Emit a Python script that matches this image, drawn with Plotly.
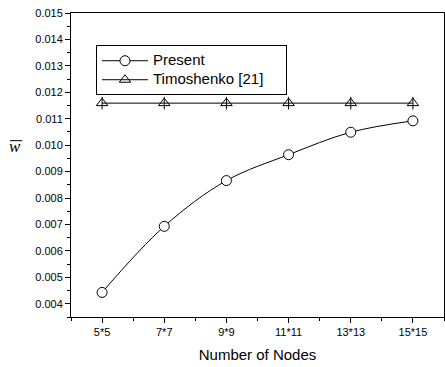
import plotly.graph_objects as go

categories = ["5*5", "7*7", "9*9", "11*11", "13*13", "15*15"]
present = [0.00443, 0.00693, 0.00866, 0.00964, 0.01049, 0.01092]
timoshenko = [0.01159, 0.01159, 0.01159, 0.01159, 0.01159, 0.01159]
series_names = ["Present", "Timoshenko [21]"]

xpos = list(range(1, len(categories) + 1))
minor_x = [i + 0.5 for i in range(0, len(categories) + 1)]

FONT = "Liberation Sans, Arial, sans-serif"


def legend_label(s, pad=0):
    return '<span style="font-size:15px">' + s + '\u00a0' * pad + '</span>'


fig = go.Figure()
fig.add_trace(go.Scatter(
    x=xpos, y=present, name=legend_label(series_names[0]), mode="lines+markers",
    line=dict(color="black", width=1, shape="spline"),
    marker=dict(symbol="circle", size=10, color="white", line=dict(color="black", width=1)),
))
fig.add_trace(go.Scatter(
    x=xpos, y=timoshenko, name=legend_label(series_names[1], pad=4), mode="lines+markers",
    line=dict(color="black", width=1),
    marker=dict(symbol="triangle-up-open", size=10, color="black", line=dict(color="black", width=1)),
))
fig.add_trace(go.Scatter(
    x=xpos, y=timoshenko, mode="markers", showlegend=False, hoverinfo="skip",
    marker=dict(symbol="line-ns-open", size=9, color="black", line=dict(color="black", width=1)),
))

axis_common = dict(showgrid=False, zeroline=False, linecolor="black", linewidth=1,
                   tickcolor="black", tickfont=dict(family=FONT, size=11, color="black"))

fig.update_layout(
    width=445, height=367,
    margin=dict(l=71, r=1, t=13, b=50),
    paper_bgcolor="white", plot_bgcolor="white",
    font=dict(family=FONT, color="black"),
    showlegend=True,
    legend=dict(x=0.067, y=0.894, xanchor="left", yanchor="top",
                bgcolor="white", bordercolor="black", borderwidth=1,
                font=dict(family=FONT, size=12, color="black"),
                itemwidth=46, tracegroupgap=0),
    xaxis=dict(**axis_common, range=[0.5, 6.5], tickmode="array", tickvals=xpos, ticktext=categories,
               ticks="outside", ticklen=5, showline=True, mirror=True,
               minor=dict(tickmode="array", tickvals=minor_x, ticks="outside", ticklen=3, tickcolor="black"),
               title=dict(text="Number of Nodes", font=dict(family=FONT, size=15, color="black"), standoff=12)),
    yaxis=dict(**axis_common, range=[0.0035, 0.015], tick0=0.004, dtick=0.001, tickformat=".3f",
               ticks="outside", ticklen=5, showline=True, mirror=True,
               minor=dict(dtick=0.0005, tick0=0.0035, ticks="outside", ticklen=3, tickcolor="black")),
    xaxis2=dict(overlaying="x", side="top", range=[0.5, 6.5], tickmode="array", tickvals=xpos,
                showticklabels=False, ticks="inside", ticklen=5, tickcolor="black", showgrid=False,
                zeroline=False, showline=False,
                minor=dict(tickmode="array", tickvals=minor_x, ticks="inside", ticklen=3, tickcolor="black")),
    yaxis2=dict(overlaying="y", side="right", range=[0.0035, 0.015], tick0=0.004, dtick=0.001,
                showticklabels=False, ticks="inside", ticklen=5, tickcolor="black", showgrid=False,
                zeroline=False, showline=False,
                minor=dict(dtick=0.0005, tick0=0.0035, ticks="inside", ticklen=3, tickcolor="black")),
)

fig.add_annotation(xref="paper", yref="paper", x=-0.149, y=0.562, xanchor="center", yanchor="middle",
                   text="<i>w</i>", showarrow=False,
                   font=dict(family="Liberation Serif, Times New Roman, serif", size=17, color="black"))
fig.add_shape(type="line", xref="paper", yref="paper", x0=-0.1635, x1=-0.131, y0=0.58, y1=0.58,
              line=dict(color="black", width=1))

fig.write_html("out.html", config={"displayModeBar": False},
               post_script="document.body.style.margin='0';document.body.style.overflow='hidden';")
